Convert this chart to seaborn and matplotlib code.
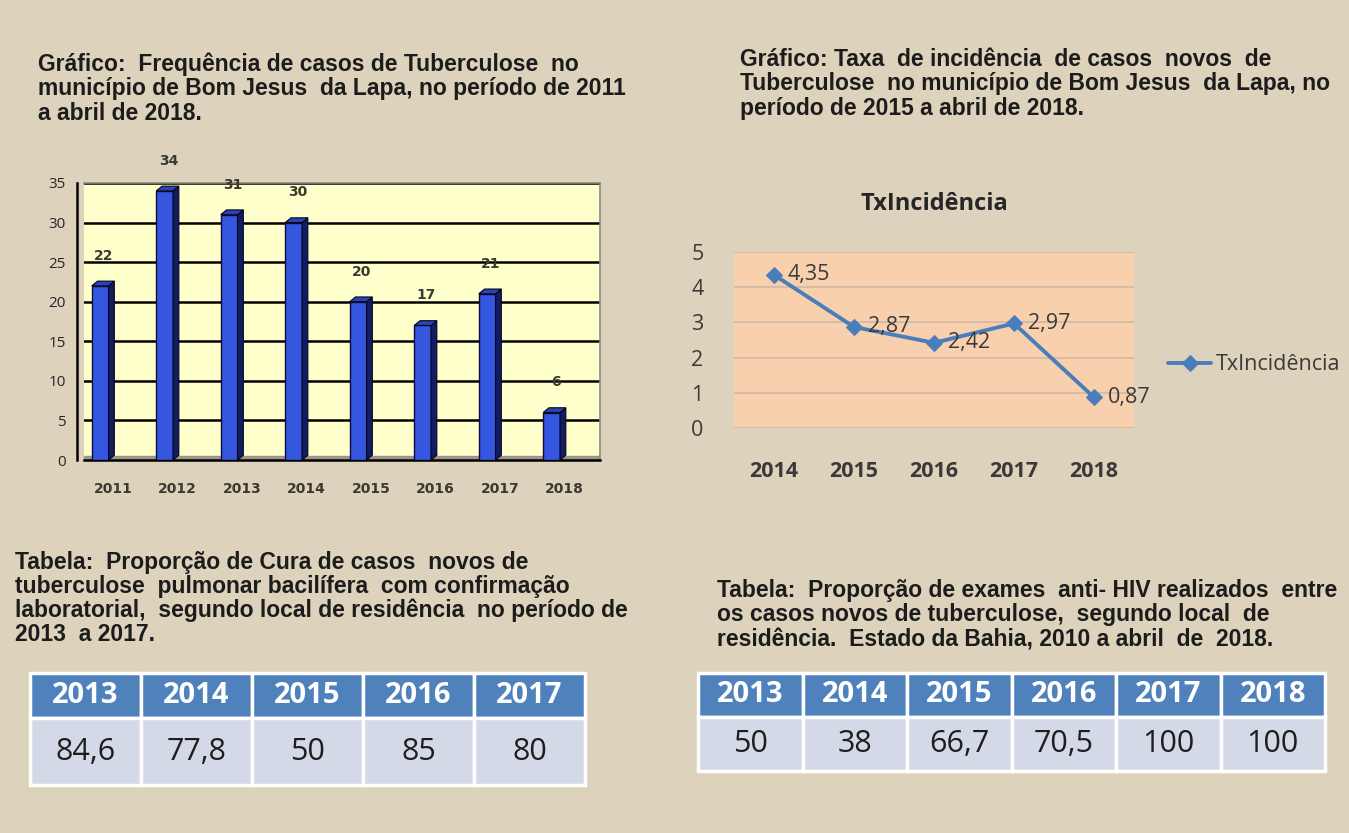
import matplotlib
matplotlib.use("Agg")
import matplotlib.pyplot as plt
from matplotlib import font_manager as fm
from matplotlib.patches import Polygon
import seaborn as sns
import pandas as pd

# ---------------- data ----------------
bar_years = ["2011", "2012", "2013", "2014", "2015", "2016", "2017", "2018"]
bar_cases = [22, 34, 31, 30, 20, 17, 21, 6]

line_years = ["2014", "2015", "2016", "2017", "2018"]
line_rates = [4.35, 2.87, 2.42, 2.97, 0.87]
line_name = "TxIncidência"

cure_years = ["2013", "2014", "2015", "2016", "2017"]
cure_values = [84.6, 77.8, 50, 85, 80]

hiv_years = ["2013", "2014", "2015", "2016", "2017", "2018"]
hiv_values = [50, 38, 66.7, 70.5, 100, 100]

caption_bar = ["Gráfico:  Frequência de casos de Tuberculose  no",
               "município de Bom Jesus  da Lapa, no período de 2011",
               "a abril de 2018."]
caption_line = ["Gráfico: Taxa  de incidência  de casos  novos  de",
                "Tuberculose  no município de Bom Jesus  da Lapa, no",
                "período de 2015 a abril de 2018."]
caption_cure = ["Tabela:  Proporção de Cura de casos  novos de",
                "tuberculose  pulmonar bacilífera  com confirmação",
                "laboratorial,  segundo local de residência  no período de",
                "2013  a 2017."]
caption_hiv = ["Tabela:  Proporção de exames  anti- HIV realizados  entre",
               "os casos novos de tuberculose,  segundo local  de",
               "residência.  Estado da Bahia, 2010 a abril  de  2018."]


def fmt(v):
    if float(v).is_integer():
        return str(int(v))
    return ("%g" % v).replace(".", ",")


# ---------------- style ----------------
sns.set_theme(style="white")
names = {f.name for f in fm.fontManager.ttflist}
NARROW = "Liberation Sans Narrow" if "Liberation Sans Narrow" in names else "DejaVu Sans"
CAP = "Liberation Sans"
CAL = "Open Sans"
plt.rcParams["font.family"] = [CAL, "DejaVu Sans"]

W, H = 1349, 833
BG = "#ddd2bb"
fig = plt.figure(figsize=(W / 100, H / 100), dpi=100)
fig.patch.set_facecolor(BG)


def px_axes(x0, y0, x1, y1):
    return fig.add_axes([x0 / W, 1 - y1 / H, (x1 - x0) / W, (y1 - y0) / H])


def caption(lines, x, y0, dy, size=16.5):
    for i, t in enumerate(lines):
        fig.text(x / W, 1 - (y0 + i * dy) / H, t, family=CAP, fontsize=size,
                 color="#1c1c1c", va="center", ha="left", weight="bold")


caption(caption_bar, 38, 64, 24.5)
caption(caption_line, 740, 59, 24.5)
caption(caption_cure, 15, 563, 23.8)
caption(caption_hiv, 717, 590, 25)

# ---------------- bar chart ----------------
ax1 = px_axes(84, 183, 600, 460)
df_bar = pd.DataFrame({"ano": bar_years, "casos": bar_cases})
sns.barplot(data=df_bar, x="ano", y="casos", color="#3557e0", saturation=1,
            width=0.26, edgecolor="#0b0b3a", linewidth=1.0, ax=ax1, zorder=3)
bars = list(ax1.patches)
ax1.set_facecolor("#ffffcc")
ax1.set_ylim(0, 35)
ax1.set_xlim(-0.25, 7.75)
ax1.axhspan(0, 0.45, color="#9c968a", zorder=2)
dx, dy = 0.09, 0.6
for p in bars:
    x0, w, h = p.get_x(), p.get_width(), p.get_height()
    ax1.add_patch(Polygon([(x0 + w, 0), (x0 + w + dx, dy), (x0 + w + dx, h + dy), (x0 + w, h)],
                          closed=True, facecolor="#121c62", edgecolor="#05051a", lw=0.8, zorder=3))
    ax1.add_patch(Polygon([(x0, h), (x0 + dx, h + dy), (x0 + w + dx, h + dy), (x0 + w, h)],
                          closed=True, facecolor="#2a44b5", edgecolor="#05051a", lw=0.8, zorder=3))
for i, v in enumerate(bar_cases):
    ax1.text(i + 0.06, v + 3.8, str(v), ha="center", va="center", family=NARROW,
             fontsize=10, color="#3a3a30", weight="bold")
ax1.set_yticks(range(0, 36, 5))
ax1.yaxis.grid(True, color="black", lw=1.8, zorder=1)
ax1.set_axisbelow(True)
ax1.set_xticks([i + 0.2 for i in range(len(bar_years))])
ax1.set_xticklabels(bar_years, family=NARROW, fontsize=10, weight="bold", color="#3a3a30")
ax1.set_xticks([i - 0.25 for i in range(len(bar_years) + 1)], minor=True)
ax1.tick_params(axis="x", which="major", length=0, pad=16)
ax1.tick_params(axis="x", which="minor", length=6, width=1.6, color="black", direction="out")
ax1.tick_params(axis="y", length=4, width=1.6, color="black", direction="out", pad=4)
for lab in ax1.get_yticklabels():
    lab.set_family(NARROW)
    lab.set_fontsize(10)
    lab.set_color("#3a3a30")
ax1.set_xlabel("")
ax1.set_ylabel("")
for s in ["left", "bottom"]:
    ax1.spines[s].set_color("black")
    ax1.spines[s].set_linewidth(1.8)
ax1.spines["left"].set_position(("outward", 5))
for s in ["top", "right"]:
    ax1.spines[s].set_color("#8a8a80")
    ax1.spines[s].set_linewidth(1.2)

# ---------------- line chart ----------------
ax2 = px_axes(734, 252, 1134, 428)
df_line = pd.DataFrame({"ano": line_years, "taxa": line_rates})
sns.lineplot(data=df_line, x="ano", y="taxa", marker="D", color="#4a7ebb", lw=2.8,
             markersize=8, markeredgecolor="#4a7ebb", ax=ax2, label=line_name, sort=False)
ax2.set_facecolor("#f9d0ad")
ax2.set_ylim(0, 5)
ax2.set_xlim(-0.5, 4.5)
ax2.set_yticks(range(0, 6))
ax2.yaxis.grid(True, color="#cdb9a4", lw=1.2)
ax2.xaxis.grid(False)
for s in ax2.spines.values():
    s.set_visible(False)
ax2.tick_params(axis="y", length=0, pad=22, labelsize=15.5, labelcolor="#3a3a3a")
ax2.tick_params(axis="x", length=0, pad=24, labelsize=15.5, labelcolor="#3a3a3a")
for lab in ax2.get_xticklabels():
    lab.set_weight("bold")
ax2.set_xlabel("")
ax2.set_ylabel("")
for i, v in enumerate(line_rates):
    ax2.annotate(fmt(v), (i, v), xytext=(10, 0), textcoords="offset points",
                 ha="left", va="center", fontsize=15.5, color="#3a3a3a")
ax2.set_title("TxIncidência", fontsize=17, weight="bold", color="#262626", pad=30)
leg = ax2.legend(loc="center left", bbox_to_anchor=(1.085, 0.358), frameon=False,
                 borderaxespad=0, borderpad=0, handlelength=2.0, handletextpad=0.2,
                 fontsize=15.5)
for t in leg.get_texts():
    t.set_color("#3a3a3a")


# ---------------- tables ----------------
def draw_table(x0, y0, x1, y1, ymid, years, values):
    ax = px_axes(x0, y0, x1, y1)
    ax.set_axis_off()
    tbl = ax.table(cellText=[[fmt(v) for v in values]], colLabels=years,
                   cellLoc="center", bbox=[0, 0, 1, 1])
    tbl.auto_set_font_size(False)
    hh = (ymid - y0) / (y1 - y0)
    for (r, c), cell in tbl.get_celld().items():
        cell.set_edgecolor("white")
        cell.set_linewidth(2.5)
        cell.get_text().set_family([CAL, "DejaVu Sans"])
        if r == 0:
            cell.set_height(hh)
            cell.set_facecolor("#4f81bd")
            cell.get_text().set_color("white")
            cell.get_text().set_weight("bold")
            cell.get_text().set_fontsize(21)
        else:
            cell.set_height(1 - hh)
            cell.set_facecolor("#d3d9e7")
            cell.get_text().set_color("#1e1e1e")
            cell.get_text().set_fontsize(22)
    return ax


draw_table(30, 673, 585, 785, 718, cure_years, cure_values)
draw_table(698, 673, 1325, 771, 717, hiv_years, hiv_values)

fig.savefig("out.png", dpi=100, facecolor=BG)
